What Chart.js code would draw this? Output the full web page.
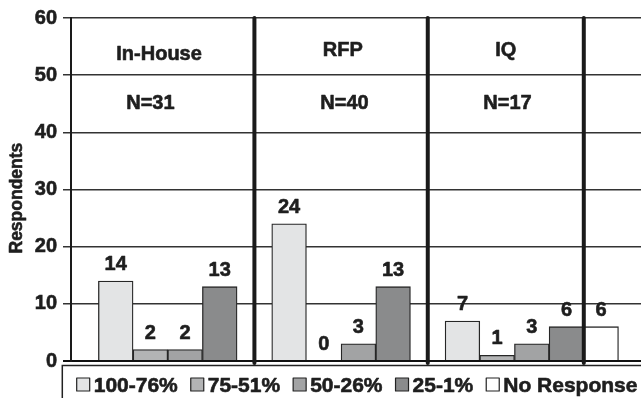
<!DOCTYPE html>
<html>
<head>
<meta charset="utf-8">
<title>Respondents by group</title>
<script src="https://cdn.jsdelivr.net/npm/chart.js@4.4.1/dist/chart.umd.min.js"></script>
<style>
  html, body { margin: 0; padding: 0; background: #fff; }
  #chart { display: block; }
</style>
</head>
<body>
<canvas id="chart" width="641" height="398"></canvas>
<script>
// data
const groups = ['In-House', 'RFP', 'IQ'];
const groupN = [31, 40, 17];
const seriesNames = ['100-76%', '75-51%', '50-26%', '25-1%', 'No Response'];
const pct100to76 = [14, 24, 7];
const pct75to51 = [2, 0, 1];
const pct50to26 = [2, 3, 3];
const pct25to1 = [13, 13, 6];
const noResponse = [null, null, 6];
const yTicks = [0, 10, 20, 30, 40, 50, 60];
const yTitle = 'Respondents';
const dividers = [0.4, 1.4, 2.3]; // thick rules, in group units

const seriesValues = [pct100to76, pct75to51, pct50to26, pct25to1, noResponse];
const fills = ['#e3e4e5', '#b3b4b5', '#a2a3a4', '#8a8b8c', '#ffffff'];
const ink = '#1e1e1e';
const FAMILY = "'Liberation Sans', Arial, Helvetica, sans-serif";
const HEAVY = 0.6; // extra stroke so the text looks as heavy as the scan

// label placement (group units / axis values), tweaked by eye
const headerShift = [-0.15, -0.09, -0.15];
const headerLevel = [53.9, 54.6, 54.6];
const nShift = [-0.2, -0.08, -0.14];
const nLevel = 45.4;
const titleLevel = 28.5;

Chart.defaults.font.family = FAMILY;
Chart.defaults.font.weight = 'bold';
Chart.defaults.color = ink;

function boldFont(size) {
  return 'bold ' + size + 'px ' + FAMILY;
}

function heavyText(ctx, text, x, y) {
  ctx.strokeText(text, x, y);
  ctx.fillText(text, x, y);
}

const groupText = {
  id: 'groupText',
  afterDatasetsDraw(chart) {
    const ctx = chart.ctx;
    const xs = chart.scales.x;
    const ys = chart.scales.y;
    const area = chart.chartArea;
    ctx.save();

    // thick separators
    ctx.strokeStyle = '#1a1a1a';
    ctx.lineWidth = 4;
    ctx.lineCap = 'round';
    dividers.forEach((v) => {
      const px = xs.getPixelForValue(v);
      ctx.beginPath();
      ctx.moveTo(px, area.top);
      ctx.lineTo(px, area.bottom + 2);
      ctx.stroke();
    });

    // value labels over each bar
    ctx.font = boldFont(20);
    ctx.fillStyle = ink;
    ctx.strokeStyle = ink;
    ctx.lineWidth = HEAVY;
    ctx.lineJoin = 'round';
    ctx.textAlign = 'center';
    ctx.textBaseline = 'alphabetic';
    seriesValues.forEach((vals, d) => {
      const meta = chart.getDatasetMeta(d);
      meta.data.forEach((bar, g) => {
        if (vals[g] == null) return;
        heavyText(ctx, String(vals[g]), bar.x, bar.y - 10.8);
      });
    });

    // group names and N
    groups.forEach((name, g) => {
      heavyText(ctx, name, xs.getPixelForValue(g + headerShift[g]), ys.getPixelForValue(headerLevel[g]) + 7.2);
      heavyText(ctx, 'N=' + groupN[g], xs.getPixelForValue(g + nShift[g]), ys.getPixelForValue(nLevel) + 7.2);
    });

    // axis title, rotated
    ctx.font = boldFont(17.5);
    ctx.translate(17, ys.getPixelForValue(titleLevel));
    ctx.rotate(-Math.PI / 2);
    ctx.textBaseline = 'middle';
    heavyText(ctx, yTitle, 0, 0);
    ctx.restore();
  },
};

const boxLegend = {
  id: 'boxLegend',
  afterDraw(chart) {
    const ctx = chart.ctx;
    const area = chart.chartArea;
    const top = area.bottom + 4.5;
    const left = area.left - 8.7;
    ctx.save();
    ctx.strokeStyle = '#222';
    ctx.lineWidth = 1.5;
    ctx.strokeRect(left, top, chart.width + 10, 60);

    ctx.font = boldFont(21);
    ctx.textAlign = 'left';
    ctx.textBaseline = 'alphabetic';
    ctx.lineJoin = 'round';
    let x = left + 14.4;
    const boxTop = top + 12.5;
    seriesNames.forEach((name, i) => {
      ctx.fillStyle = fills[i];
      ctx.fillRect(x, boxTop, 13, 13);
      ctx.lineWidth = 1.2;
      ctx.strokeStyle = '#222';
      ctx.strokeRect(x, boxTop, 13, 13);
      ctx.fillStyle = ink;
      ctx.strokeStyle = ink;
      ctx.lineWidth = HEAVY;
      heavyText(ctx, name, x + 17, boxTop + 13.7);
      x += 17 + ctx.measureText(name).width + 13;
    });
    ctx.restore();
  },
};

new Chart(document.getElementById('chart'), {
  type: 'bar',
  data: {
    datasets: seriesNames.map((name, i) => ({
      label: name,
      data: seriesValues[i].map((v, g) => ({ x: g, y: v })),
      backgroundColor: fills[i],
      borderColor: '#262626',
      borderWidth: 1.3,
    })),
  },
  options: {
    responsive: false,
    animation: false,
    layout: { padding: { top: 15, bottom: 37, left: 0, right: 0 } },
    datasets: {
      bar: { categoryPercentage: 1, barPercentage: 1 },
    },
    scales: {
      x: {
        type: 'linear',
        display: false,
        offset: false,
        min: -0.658,
        max: 2.63,
        ticks: { stepSize: 1, includeBounds: false },
      },
      y: {
        min: yTicks[0],
        max: yTicks[yTicks.length - 1],
        afterFit: (scale) => {
          scale.width = 71;
        },
        ticks: {
          stepSize: yTicks[1] - yTicks[0],
          padding: 6,
          font: { size: 20 },
          color: ink,
          textStrokeColor: ink,
          textStrokeWidth: HEAVY,
        },
        grid: {
          color: (c) => (c.tick && c.tick.value === 0 ? '#111' : '#333'),
          lineWidth: (c) => (c.tick && c.tick.value === 0 ? 2 : 1.5),
          tickLength: 8,
        },
        border: { color: '#1a1a1a', width: 2 },
      },
    },
    plugins: {
      legend: { display: false },
      tooltip: { enabled: false },
    },
  },
  plugins: [groupText, boxLegend],
});
</script>
</body>
</html>
